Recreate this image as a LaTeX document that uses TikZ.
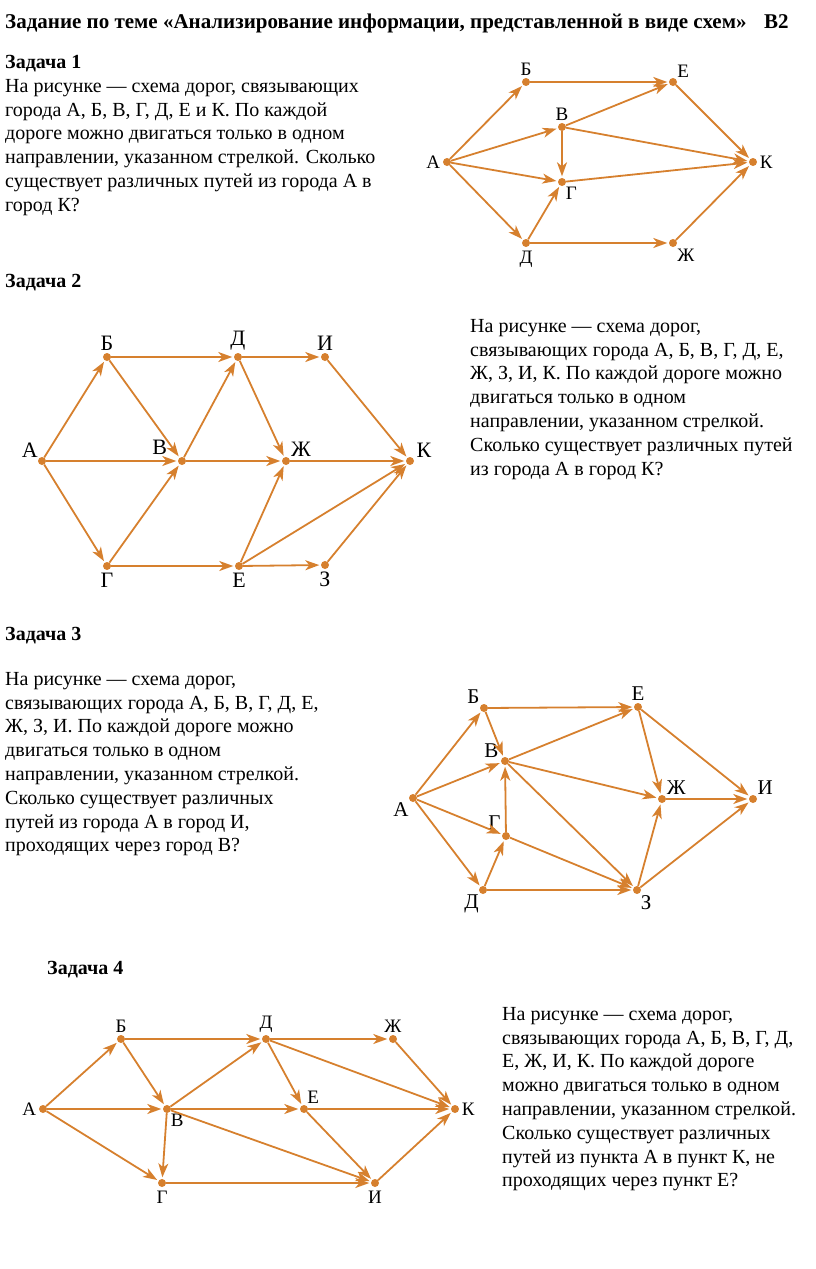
\documentclass[tikz,border=0pt]{standalone}
\usepackage{fontspec}
\setmainfont{Liberation Serif}
\usetikzlibrary{arrows.meta, positioning}
\definecolor{schemeorange}{RGB}{214,128,46}

\begin{document}
\begin{tikzpicture}[x=1pt, y=-1pt,
  city/.style={circle, fill=schemeorange, inner sep=0pt, minimum size=8pt},
  rd/.style={draw=schemeorange, line width=1.8pt, -{Stealth[length=14pt, width=10pt, inset=4pt]}, shorten >=1.5pt},
  txt/.style={anchor=north west, align=left, inner sep=0pt, font=\fontsize{20}{23.8}\selectfont},
  head/.style={anchor=base west, inner sep=0pt, font=\bfseries\fontsize{20}{24}\selectfont},
  every label/.style={inner sep=1.5pt}]
  \useasboundingbox (0,0) rectangle (816,1269);

  % заголовок
  \node[head, font=\bfseries\fontsize{21}{24}\selectfont] (title) at (5,28) {Задание по теме «Анализирование информации, представленной в виде схем»};
  \node[head, font=\bfseries\fontsize{21}{24}\selectfont] (bnum) at (764,28) {В2};

  % Задача 1
  \node[head] (h1) at (5,68) {Задача 1};
  \node[txt] (t1) at (5,79) {На рисунке — схема дорог, связывающих\\
    города А, Б, В, Г, Д, Е и К. По каждой\\
    дороге можно двигаться только в одном\\
    направлении, указанном стрелкой. Сколько\\
    существует различных путей из города А в\\
    город К?};

  \begin{scope}[every label/.append style={font=\fontsize{19}{19}\selectfont}]
  \node[city, label={[label distance=1pt]left:А}] (a1) at (447,162) {};
  \node[city, label={[label distance=1pt]above:Б}] (b1) at (526,82) {};
  \node[city, label={[label distance=1pt]above:В}] (v1) at (562,127) {};
  \node[city, label={[label distance=0pt]-60:Г}] (g1) at (562,182) {};
  \node[city, label={[label distance=2pt]below:Д}] (d1) at (526,243) {};
  \node[city, label={[label distance=0pt]50:Е}] (e1) at (673,82) {};
  \node[city, label={[label distance=1pt]-60:Ж}] (zh1) at (673,243) {};
  \node[city, label={[label distance=1pt]right:К}] (k1) at (753,162) {};
  \end{scope}
  \draw[rd] (a1) -- (b1); \draw[rd] (a1) -- (v1); \draw[rd] (a1) -- (g1); \draw[rd] (a1) -- (d1);
  \draw[rd] (b1) -- (e1); \draw[rd] (v1) -- (e1); \draw[rd] (v1) -- (k1); \draw[rd] (v1) -- (g1);
  \draw[rd] (g1) -- (k1); \draw[rd] (d1) -- (g1); \draw[rd] (d1) -- (zh1);
  \draw[rd] (e1) -- (k1); \draw[rd] (zh1) -- (k1);

  % Задача 2
  \node[head] (h2) at (5,287) {Задача 2};
  \node[txt] (t2) at (470,319) {На рисунке — схема дорог,\\
    связывающих города А, Б, В, Г, Д, Е,\\
    Ж, З, И, К. По каждой дороге можно\\
    двигаться только в одном\\
    направлении, указанном стрелкой.\\
    Сколько существует различных путей\\
    из города А в город К?};

  \begin{scope}[every label/.append style={font=\fontsize{22}{22}\selectfont}]
  \node[city, label={[label distance=-1pt]140:А}] (a2) at (42,461) {};
  \node[city, label={[label distance=1pt]above:Б}] (b2) at (107,357) {};
  \node[city, label={[label distance=1pt]above:Д}] (d2) at (238,357) {};
  \node[city, label={[label distance=1pt]above:И}] (i2) at (325,357) {};
  \node[city, label={[label distance=10pt]160:В}] (v2) at (182,461) {};
  \node[city, label={[label distance=0pt]36:Ж}] (zh2) at (286,461) {};
  \node[city, label={[label distance=1pt]20:К}] (k2) at (410,461) {};
  \node[city, label={[label distance=1pt]below:Г}] (g2) at (107,566) {};
  \node[city, label={[label distance=1pt]below:Е}] (e2) at (239,566) {};
  \node[city, label={[label distance=1pt]below:З}] (z2) at (325,565) {};
  \end{scope}
  \draw[rd] (a2) -- (b2); \draw[rd] (a2) -- (v2); \draw[rd] (a2) -- (g2);
  \draw[rd] (b2) -- (d2); \draw[rd] (b2) -- (v2); \draw[rd] (d2) -- (i2); \draw[rd] (d2) -- (zh2);
  \draw[rd] (v2) -- (d2); \draw[rd] (v2) -- (zh2); \draw[rd] (g2) -- (v2); \draw[rd] (g2) -- (e2);
  \draw[rd] (e2) -- (zh2); \draw[rd] (e2) -- (k2); \draw[rd] (e2) -- (z2);
  \draw[rd] (i2) -- (k2); \draw[rd] (zh2) -- (k2); \draw[rd] (z2) -- (k2);

  % Задача 3
  \node[head] (h3) at (5,640) {Задача 3};
  \node[txt] (t3) at (5,672) {На рисунке — схема дорог,\\
    связывающих города А, Б, В, Г, Д, Е,\\
    Ж, З, И. По каждой дороге можно\\
    двигаться только в одном\\
    направлении, указанном стрелкой.\\
    Сколько существует различных\\
    путей из города А в город И,\\
    проходящих через город В?};

  \begin{scope}[every label/.append style={font=\fontsize{21}{21}\selectfont}]
  \node[city, label={[label distance=0pt]-130:А}] (a3) at (413,798) {};
  \node[city, label={[label distance=0pt]135:Б}] (b3) at (484,708) {};
  \node[city, label={[label distance=1pt]above:Е}] (e3) at (638,707) {};
  \node[city, label={[label distance=1pt]165:В}] (v3) at (505,761) {};
  \node[city, label={[label distance=2pt]127:Г}] (g3) at (506,836) {};
  \node[city, label={[label distance=0pt]-130:Д}] (d3) at (483,890) {};
  \node[city, label={[label distance=0pt]42:Ж}] (zh3) at (662,799) {};
  \node[city, label={[label distance=0pt]48:И}] (i3) at (753,799) {};
  \node[city, label={[label distance=0pt]-60:З}] (z3) at (637,890) {};
  \end{scope}
  \draw[rd] (a3) -- (b3); \draw[rd] (a3) -- (v3); \draw[rd] (a3) -- (g3); \draw[rd] (a3) -- (d3);
  \draw[rd] (b3) -- (e3); \draw[rd] (b3) -- (v3); \draw[rd] (v3) -- (e3); \draw[rd] (v3) -- (zh3);
  \draw[rd] (v3) -- (z3); \draw[rd] (g3) -- (v3); \draw[rd] (g3) -- (z3);
  \draw[rd] (d3) -- (g3); \draw[rd] (d3) -- (z3);
  \draw[rd] (e3) -- (zh3); \draw[rd] (e3) -- (i3); \draw[rd] (zh3) -- (i3);
  \draw[rd] (z3) -- (zh3); \draw[rd] (z3) -- (i3);

  % Задача 4
  \node[head] (h4) at (47,974) {Задача 4};
  \node[txt] (t4) at (502,1007) {На рисунке — схема дорог,\\
    связывающих города А, Б, В, Г, Д,\\
    Е, Ж, И, К. По каждой дороге\\
    можно двигаться только в одном\\
    направлении, указанном стрелкой.\\
    Сколько существует различных\\
    путей из пункта А в пункт К, не\\
    проходящих через пункт Е?};

  \begin{scope}[every label/.append style={font=\fontsize{19}{19}\selectfont}]
  \node[city, label={[label distance=1pt]left:А}] (a4) at (43,1109) {};
  \node[city, label={[label distance=1pt]above:Б}] (b4) at (121,1039) {};
  \node[city, label={[label distance=1pt]above:Д}] (d4) at (266,1039) {};
  \node[city, label={[label distance=1pt]above:Ж}] (zh4) at (393,1039) {};
  \node[city, label={[label distance=0pt]-60:В}] (v4) at (167,1109) {};
  \node[city, label={[label distance=0pt]65:Е}] (e4) at (304,1109) {};
  \node[city, label={[label distance=1pt]right:К}] (k4) at (455,1109) {};
  \node[city, label={[label distance=2pt]below:Г}] (g4) at (162,1183) {};
  \node[city, label={[label distance=2pt]below:И}] (i4) at (375,1183) {};
  \end{scope}
  \draw[rd] (a4) -- (b4); \draw[rd] (a4) -- (v4); \draw[rd] (a4) -- (g4);
  \draw[rd] (b4) -- (d4); \draw[rd] (b4) -- (v4); \draw[rd] (v4) -- (d4); \draw[rd] (v4) -- (e4);
  \draw[rd] (v4) -- (i4); \draw[rd] (v4) -- (g4);
  \draw[rd] (d4) -- (zh4); \draw[rd] (d4) -- (e4); \draw[rd] (d4) -- (k4);
  \draw[rd] (zh4) -- (k4); \draw[rd] (e4) -- (k4); \draw[rd] (e4) -- (i4);
  \draw[rd] (g4) -- (i4); \draw[rd] (i4) -- (k4);
\end{tikzpicture}
\end{document}
